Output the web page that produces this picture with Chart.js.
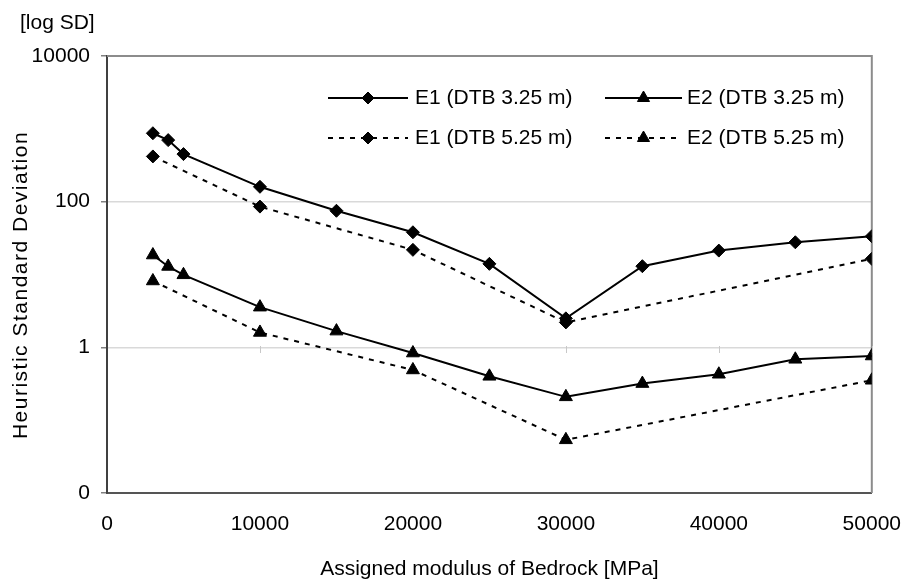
<!DOCTYPE html>
<html>
<head>
<meta charset="utf-8">
<script src="https://cdn.jsdelivr.net/npm/chart.js@4.4.1/dist/chart.umd.min.js"></script>
<style>
  html, body { margin: 0; padding: 0; background: #fff; }
  #wrap { width: 920px; height: 583px; position: relative; }
</style>
</head>
<body>
<div id="wrap"><canvas id="c"></canvas></div>
<script>
// Assigned bedrock modulus [MPa] for each series
const modulusFull = [3000, 4000, 5000, 10000, 15000, 20000, 25000, 30000, 35000, 40000, 45000, 50000];
const modulusSparse = [3000, 10000, 20000, 30000, 50000];

// Heuristic standard deviation per series
const e1Dtb325 = [870, 700, 450, 160, 75, 38, 14, 2.5, 13, 21.3, 27.7, 33.5];
const e2Dtb325 = [18.5, 12.9, 9.9, 3.56, 1.67, 0.835, 0.40, 0.209, 0.318, 0.427, 0.685, 0.76];
const e1Dtb525 = [418, 85.5, 21.8, 2.2, 16.4];
const e2Dtb525 = [8.15, 1.6, 0.489, 0.0537, 0.353];

const seriesLabels = ['E1 (DTB 3.25 m)', 'E2 (DTB 3.25 m)', 'E1 (DTB 5.25 m)', 'E2 (DTB 5.25 m)'];

// Axis ticks (the lowest log tick is printed as "0")
const yTickValues = [0.01, 1, 100, 10000];
const yTickLabels = ['0', '1', '100', '10000'];
const xTickValues = [0, 10000, 20000, 30000, 40000, 50000];

const xTitle = 'Assigned modulus of Bedrock [MPa]';
const yTitle = 'Heuristic Standard Deviation';
const yUnit = '[log SD]';

const FONT = "'Liberation Sans', Arial, sans-serif";
const FONT_SIZE = 21;

function pairs(xs, ys) { return xs.map((x, i) => ({ x: x, y: ys[i] })); }

function seriesStyle(label, data, marker, dashed) {
  return {
    label: label,
    data: data,
    borderColor: '#000',
    borderWidth: 2,
    borderDash: dashed ? [5, 6] : [],
    backgroundColor: '#000',
    pointStyle: marker,
    pointRadius: marker === 'triangle' ? 7.5 : 6.5,
    pointBorderWidth: 1,
    pointBackgroundColor: '#000',
    pointBorderColor: '#000',
    tension: 0,
    fill: false
  };
}

const datasets = [
  seriesStyle(seriesLabels[0], pairs(modulusFull, e1Dtb325), 'rectRot', false),
  seriesStyle(seriesLabels[1], pairs(modulusFull, e2Dtb325), 'triangle', false),
  seriesStyle(seriesLabels[2], pairs(modulusSparse, e1Dtb525), 'rectRot', true),
  seriesStyle(seriesLabels[3], pairs(modulusSparse, e2Dtb525), 'triangle', true)
];

// Draws a marker in the same shape Chart.js uses for the points
function drawMarker(ctx, style, r, x, y) {
  ctx.beginPath();
  if (style === 'triangle') {
    for (let k = 0; k < 3; k++) {
      const a = k * 2 * Math.PI / 3;
      const px = x + Math.sin(a) * r, py = y - Math.cos(a) * r;
      if (k === 0) ctx.moveTo(px, py); else ctx.lineTo(px, py);
    }
  } else {
    ctx.moveTo(x - r, y); ctx.lineTo(x, y - r); ctx.lineTo(x + r, y); ctx.lineTo(x, y + r);
  }
  ctx.closePath();
  ctx.fill();
  ctx.stroke();
}

const frameAndText = {
  id: 'frameAndText',
  beforeDatasetsDraw(chart) {
    const { ctx, chartArea: a, scales } = chart;
    ctx.save();
    // plot-area frame (top and right)
    ctx.strokeStyle = '#8c8c8c';
    ctx.lineWidth = 2;
    ctx.beginPath();
    ctx.moveTo(a.left, a.top);
    ctx.lineTo(a.right, a.top);
    ctx.lineTo(a.right, a.bottom);
    ctx.stroke();
    // small category ticks where the horizontal axis crosses at 1
    const y1 = Math.round(scales.y.getPixelForValue(1));
    ctx.strokeStyle = '#c8c8c8';
    ctx.lineWidth = 1;
    xTickValues.slice(1).forEach(v => {
      const x = Math.round(scales.x.getPixelForValue(v)) + 0.5;
      ctx.beginPath();
      ctx.moveTo(x, y1 - 1);
      ctx.lineTo(x, y1 + 6);
      ctx.stroke();
    });
    ctx.restore();
  },
  afterDraw(chart) {
    const { ctx, chartArea: a } = chart;
    ctx.save();
    ctx.fillStyle = '#000';
    ctx.font = FONT_SIZE + 'px ' + FONT;
    ctx.textBaseline = 'middle';

    // unit label above the value axis
    ctx.textAlign = 'left';
    ctx.fillText(yUnit, 20, 23);

    // axis titles
    ctx.textAlign = 'center';
    ctx.fillText(xTitle, (a.left + a.right) / 2, 569);
    ctx.save();
    ctx.translate(21, 285);
    ctx.rotate(-Math.PI / 2);
    ctx.letterSpacing = '1.5px';
    ctx.fillText(yTitle, 0, 0);
    ctx.restore();

    // legend: two columns, two rows inside the plot area
    const cols = [{ x1: 328, x2: 408, tx: 415 }, { x1: 605, x2: 682, tx: 687 }];
    const rows = [98, 138];
    chart.data.datasets.forEach((ds, i) => {
      const c = cols[i % 2], ry = rows[Math.floor(i / 2)];
      ctx.strokeStyle = '#000';
      ctx.lineWidth = 2;
      ctx.setLineDash(ds.borderDash || []);
      ctx.beginPath();
      ctx.moveTo(c.x1, ry);
      ctx.lineTo(c.x2, ry);
      ctx.stroke();
      ctx.setLineDash([]);
      ctx.lineWidth = 1;
      ctx.fillStyle = '#000';
      drawMarker(ctx, ds.pointStyle, ds.pointStyle === 'triangle' ? 7 : 6, (c.x1 + c.x2) / 2, ry);
      ctx.textAlign = 'left';
      ctx.fillText(ds.label, c.tx, ry);
    });
    ctx.restore();
  }
};

new Chart(document.getElementById('c'), {
  type: 'line',
  data: { datasets: datasets },
  plugins: [frameAndText],
  options: {
    responsive: true,
    maintainAspectRatio: false,
    animation: false,
    layout: { padding: { top: 56, right: 33, left: 0, bottom: 0 } },
    plugins: { legend: { display: false }, tooltip: { enabled: false } },
    scales: {
      x: {
        type: 'linear',
        min: 0,
        max: 50000,
        afterFit(s) { s.height = 90; },
        afterBuildTicks(s) { s.ticks = xTickValues.map(v => ({ value: v })); },
        grid: { display: false, drawTicks: false },
        border: { display: true, color: '#555', width: 2 },
        ticks: {
          color: '#000',
          padding: 19,
          maxRotation: 0,
          font: { family: FONT, size: FONT_SIZE },
          callback: v => String(v)
        }
      },
      y: {
        type: 'logarithmic',
        min: 0.01,
        max: 10000,
        afterFit(s) { s.width = 107; },
        afterBuildTicks(s) { s.ticks = yTickValues.map(v => ({ value: v })); },
        grid: {
          color: c => (c.tick && (c.tick.value === 1 || c.tick.value === 100)) ? '#d9d9d9' : 'rgba(0,0,0,0)',
          lineWidth: 1.5,
          tickColor: '#808080',
          tickLength: 6
        },
        border: { display: true, color: '#404040', width: 2 },
        ticks: {
          color: '#000',
          padding: 11,
          font: { family: FONT, size: FONT_SIZE },
          callback: v => yTickLabels[yTickValues.indexOf(v)]
        }
      }
    }
  }
});
</script>
</body>
</html>
